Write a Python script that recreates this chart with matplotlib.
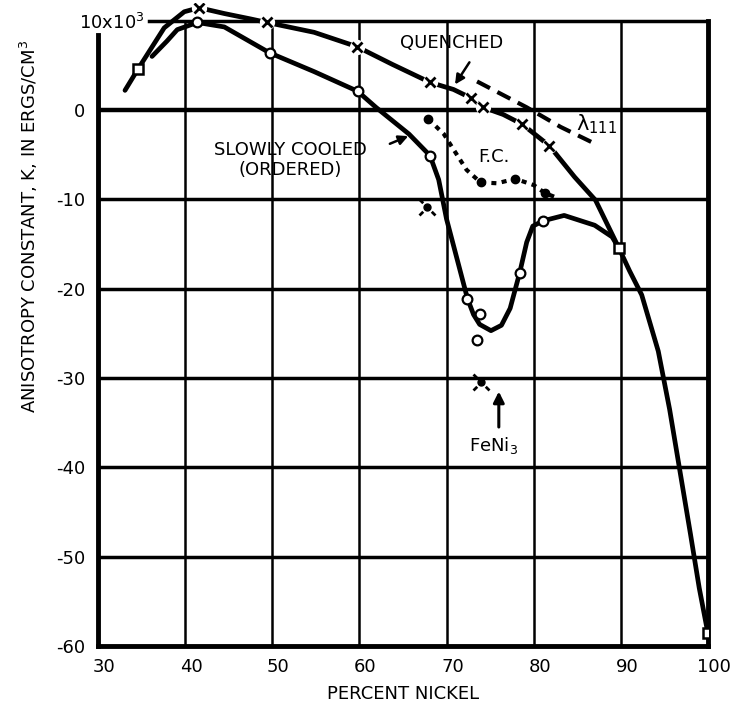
import numpy as np
import matplotlib.pyplot as plt
from matplotlib.path import Path
from matplotlib.transforms import ScaledTranslation

plt.rcParams['font.family'] = 'DejaVu Sans'
plt.rcParams['axes.unicode_minus'] = False

# anisotropy constant K (units of 10^3 ergs/cm^3) vs percent nickel
slow_x = [36.2, 37.9, 39.1, 41.4, 44.5, 49.7, 54.8, 59.8, 61.9, 63.8, 65.7, 68.1,
          69.1, 70.0, 72.4, 73.1, 73.8, 75.1, 76.3, 77.3, 78.4, 79.2, 79.9, 81.1,
          83.5, 87.0, 89.0, 89.8]
slow_y = [6.0, 7.7, 9.0, 9.8, 9.3, 6.4, 4.3, 2.1, 0.3, -1.2, -2.7, -5.1,
          -7.8, -12.2, -21.1, -22.9, -24.0, -24.7, -24.1, -22.2, -18.2, -14.8, -13.0, -12.4,
          -11.8, -12.9, -14.2, -15.5]

# common branch down to pure nickel
tail_x = [89.8, 91.0, 92.4, 94.3, 95.6, 96.8, 98.0, 99.0, 100.0]
tail_y = [-15.5, -18.0, -20.7, -27.0, -33.5, -40.5, -47.5, -53.5, -58.6]

quench_x = [33.1, 34.6, 37.6, 39.9, 41.6, 44.5, 47.5, 49.4, 54.8, 59.7, 63.8, 68.1,
            70.8, 72.8, 74.2, 76.5, 78.7, 81.8, 84.7, 87.1, 89.8]
quench_y = [2.2, 4.6, 9.2, 11.0, 11.45, 10.8, 10.2, 9.8, 8.7, 7.1, 5.1, 3.1,
            2.3, 1.35, 0.3, -0.5, -1.6, -4.0, -7.5, -10.1, -15.5]

fc_x = [67.9, 69.7, 70.4, 72.3, 73.9, 75.8, 77.9, 80.0, 81.3, 82.6]
fc_y = [-1.0, -2.7, -3.8, -6.7, -8.1, -8.2, -7.7, -8.4, -9.3, -9.8]

lam_x = [73.5, 79.2, 83.1, 87.3]
lam_y = [3.2, 0.3, -1.9, -3.9]

# measured points
circ_x = [41.4, 49.7, 59.8, 68.1, 72.4, 73.8, 73.5, 78.4, 81.1]
circ_y = [9.8, 6.4, 2.1, -5.1, -21.1, -22.8, -25.7, -18.2, -12.4]
cross_x = [41.6, 49.4, 59.7, 68.1, 72.8, 74.2, 78.7, 81.8]
cross_y = [11.45, 9.8, 7.1, 3.1, 1.35, 0.3, -1.6, -4.0]
sq_x = [34.6, 89.8, 100.0]
sq_y = [4.6, -15.5, -58.6]
fcdot_x = [67.9, 73.9, 77.9, 81.3]
fcdot_y = [-1.0, -8.1, -7.7, -9.3]
feni3_x = [67.8, 74.0]
feni3_y = [-10.9, -30.4]

xticks = [30, 40, 50, 60, 70, 80, 90, 100]
yticks = [0, -10, -20, -30, -40, -50, -60]

fig = plt.figure(figsize=(7.34, 7.06), dpi=100)
ax = fig.add_axes([0.1335, 0.085, 0.831, 0.911])
ax.set_xlim(30, 100)
ax.set_ylim(-60, 12)

# grid
for x in xticks[1:-1]:
    ax.plot([x, x], [-60, 10], color='black', lw=1.8, zorder=1)
for y in yticks[1:-1]:
    ax.plot([30, 100], [y, y], color='black', lw=2.5, zorder=1)
ax.plot([30, 100], [0, 0], color='black', lw=3.2, zorder=1)
ax.plot([35.8, 100], [10, 10], color='black', lw=2.5, zorder=1)

for s in ['left', 'bottom', 'right']:
    ax.spines[s].set_linewidth(3.5)
ax.spines['top'].set_visible(False)
ax.spines['left'].set_bounds(-60, 8.4)
ax.spines['right'].set_bounds(-60, 10)

ax.set_xticks(xticks)
ax.set_yticks(yticks)
ax.set_yticklabels([str(v) for v in yticks])
ax.tick_params(length=0, labelsize=13, pad=9)
shift = ScaledTranslation(0.06, 0, fig.dpi_scale_trans)
for lab in ax.get_xticklabels():
    lab.set_transform(lab.get_transform() + shift)
ax.text(35.3, 9.8, '10x10$^3$', ha='right', va='center', fontsize=13)

ax.set_xlabel('PERCENT NICKEL', fontsize=13, labelpad=6)
ax.set_ylabel('ANISOTROPY CONSTANT, K, IN ERGS/CM$^3$', fontsize=13)
ax.yaxis.set_label_coords(-0.095, 0.653)

# curves
lw = 3.4
ax.plot(slow_x, slow_y, color='black', lw=lw, zorder=3, solid_capstyle='round')
ax.plot(tail_x, tail_y, color='black', lw=lw, zorder=3, solid_capstyle='round')
ax.plot(quench_x, quench_y, color='black', lw=lw, zorder=3, solid_capstyle='round')
ax.plot(fc_x, fc_y, color='black', lw=3.0, ls=(0, (1.2, 1.3)), zorder=3)
ax.plot(lam_x, lam_y, color='black', lw=3.0, ls=(0, (3.5, 2.0)), zorder=3)

# markers
ax.plot(cross_x, cross_y, 'o', ms=11, mfc='white', mec='none', zorder=4)
ax.plot(cross_x, cross_y, 'x', ms=7, mew=2.0, color='black', zorder=5)
ax.plot(circ_x, circ_y, 'o', ms=7, mfc='white', mec='black', mew=1.6, zorder=5)
ax.plot(sq_x, sq_y, 's', ms=7, mfc='white', mec='black', mew=1.8, zorder=5)
ax.plot(fcdot_x, fcdot_y, 'o', ms=6, color='black', zorder=5)

rays = Path([(-0.4, 0.4), (-0.75, 0.75), (-0.4, -0.4), (-0.75, -0.75),
             (0.4, -0.4), (0.75, -0.75)],
            [Path.MOVETO, Path.LINETO] * 3)
ax.plot(feni3_x, feni3_y, ls='none', marker=rays, ms=11.5, mew=2.0,
        mfc='none', mec='black', zorder=5)
ax.plot(feni3_x, feni3_y, 'o', ms=5, color='black', zorder=5)

# labels
fs = 13
ax.text(70.6, 7.5, 'QUENCHED', ha='center', va='center', fontsize=fs)
ax.annotate('', xy=(70.8, 2.6), xytext=(72.8, 5.6),
            arrowprops=dict(arrowstyle='-|>', color='black', lw=1.8,
                            mutation_scale=14))
ax.text(52.1, -5.6, 'SLOWLY COOLED\n(ORDERED)', ha='center', va='center',
        fontsize=fs, linespacing=1.15)
ax.annotate('', xy=(65.9, -2.8), xytext=(63.2, -3.9),
            arrowprops=dict(arrowstyle='-|>', color='black', lw=1.8,
                            mutation_scale=14))
ax.text(75.4, -5.3, 'F.C.', ha='center', va='center', fontsize=fs)
ax.text(84.9, -2.3, 'λ$_{111}$', ha='left', va='baseline', fontsize=fs + 2)
ax.annotate('', xy=(76.0, -31.2), xytext=(76.0, -35.8),
            arrowprops=dict(arrowstyle='-|>', color='black', lw=2.2,
                            mutation_scale=16))
ax.text(75.4, -37.6, 'FeNi$_3$', ha='center', va='center', fontsize=fs)

fig.savefig('out.png', dpi=100)
